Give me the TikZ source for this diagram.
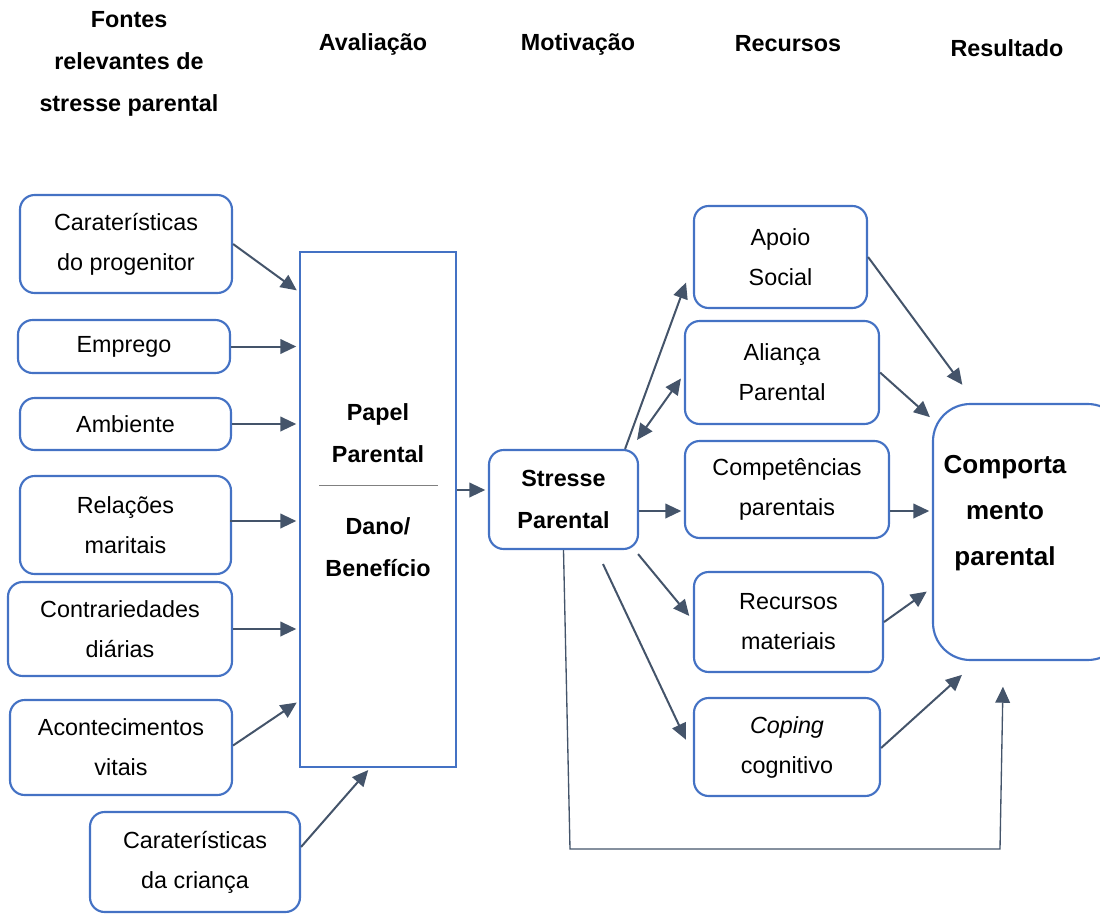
\documentclass[tikz,border=0pt]{standalone}
\usepackage{fontspec}
\setmainfont{Liberation Sans}
\usetikzlibrary{arrows.meta,calc}
\definecolor{azul}{HTML}{4472C4}
\definecolor{ardosia}{HTML}{44546A}
\tikzset{
  caixa/.style={draw=azul, line width=1.6pt, rounded corners=11pt, align=center, inner sep=0pt,
    font=\fontsize{17.5}{30}\selectfont},
  titulo/.style={align=center, font=\fontsize{17.5}{31.5}\selectfont\bfseries},
  seta/.style={draw=ardosia, line width=1.5pt, shorten >=2pt, -{Triangle[length=12pt,width=11pt]}},
  dupla/.style={draw=ardosia, line width=1.5pt, {Triangle[length=12pt,width=11pt]}-{Triangle[length=12pt,width=11pt]}}
}
\begin{document}
\begin{tikzpicture}[x=0.75pt,y=-0.75pt]
\useasboundingbox (0,0) rectangle (1100,914);
% titulos
\node[titulo] (tfontes) at (129,64) {Fontes\\relevantes de\\stresse parental};
\node[titulo] (taval) at (373,44) {Avaliação};
\node[titulo] (tmotiv) at (578,44) {Motivação};
\node[titulo] (trec) at (788,44) {Recursos};
\node[titulo] (tres) at (1007,48) {Resultado};
% fontes
\node[caixa, minimum width=159pt, minimum height=73.5pt] (prog) at (126,244) {Caraterísticas\\do progenitor};
\node[caixa, minimum width=159pt, minimum height=39.75pt] (emp) at (124,346.5) {Emprego};
\node[caixa, minimum width=158.25pt, minimum height=39pt] (amb) at (125.5,424) {Ambiente};
\node[caixa, minimum width=158.25pt, minimum height=73.5pt] (rel) at (125.5,525) {Relações\\maritais};
\node[caixa, minimum width=168pt, minimum height=70.5pt] (contr) at (120,629) {Contrariedades\\diárias};
\node[caixa, minimum width=166.5pt, minimum height=71.25pt] (acont) at (121,747.5) {Acontecimentos\\vitais};
\node[caixa, minimum width=157.5pt, minimum height=75pt] (crian) at (195,862) {Caraterísticas\\da criança};
% avaliacao
\node[draw=azul, line width=1.6pt, minimum width=117pt, minimum height=386.25pt] (papel) at (378,509.5) {};
\node[titulo] (papelA) at ($(papel.center)+(0,-76.5)$) {Papel\\Parental};
\node[titulo] (papelB) at ($(papel.center)+(0,38)$) {Dano/\\Benefício};
\draw[gray, line width=0.6pt] ($(papel.center)+(-59,-24.5)$) -- ($(papel.center)+(60,-24.5)$);
% motivacao
\node[caixa, minimum width=111.75pt, minimum height=74.25pt, font=\fontsize{17.5}{31.5}\selectfont\bfseries] (stress) at (563.5,499.5) {Stresse\\Parental};
% recursos
\node[caixa, minimum width=129.75pt, minimum height=76.5pt] (apoio) at (780.5,257) {Apoio\\Social};
\node[caixa, minimum width=145.5pt, minimum height=77.25pt] (alianca) at (782,372.5) {Aliança\\Parental};
\node[caixa, minimum width=153pt, minimum height=72.75pt] (compet) at (787,489.5) {Competências\\parentais};
\node[caixa, minimum width=141.75pt, minimum height=75pt] (recursos) at (788.5,622) {Recursos\\materiais};
\node[caixa, minimum width=139.5pt, minimum height=73.5pt] (coping) at (787,747) {\textit{Coping}\\cognitivo};
% resultado
\node[caixa, rounded corners=28pt, minimum width=144pt, minimum height=192pt] (comport) at (1029,532) {};
\node[titulo, font=\fontsize{19.5}{34.5}\selectfont\bfseries] (comportT) at ($(comport.center)+(-24,-19)$) {Comporta\\mento\\parental};
% setas fontes -> papel
\draw[seta] (prog.east) -- ($(papel.north west)+(0,41)$);
\draw[seta] (emp.east) -- (emp.east -| papel.west);
\draw[seta] (amb.east) -- (amb.east -| papel.west);
\draw[seta] ($(rel.east)+(-2,-4)$) -- ($(rel.east -| papel.west)+(0,-4)$);
\draw[seta] (contr.east) -- (contr.east -| papel.west);
\draw[seta] ($(acont.east)+(0,-2)$) -- ($(papel.south west)+(0,-67)$);
\draw[seta] ($(crian.north east)+(0,36)$) -- ($(papel.south)+(-8,0)$);
% papel -> stresse
\draw[seta] ($(papel.east)+(0,-19.5)$) -- ($(papel.east -| stress.west)+(0,-19.5)$);
% stresse -> recursos
\draw[seta] ($(stress.north east)+(-14,0)$) -- ($(apoio.west)+(-6,23)$);
\draw[dupla] ($(stress.north east)+(-2,-9)$) -- ($(alianca.west)+(-3,6)$);
\draw[seta] ($(stress.east)+(0,11.5)$) -- ($(stress.east -| compet.west)+(0,11.5)$);
\draw[seta] ($(stress.south east)+(-1,4)$) -- ($(recursos.west)+(-2,-4)$);
\draw[seta] ($(stress.south)+(39.5,14)$) -- ($(coping.west)+(-6,-5)$);
\draw[seta, line width=1pt] (stress.south) -- ++(6.5,299) -- ++(430,0) -- ($(comport.south)+(-26,23)$);
% recursos -> comportamento
\draw[seta] (apoio.east) -- ($(comport.north west)+(32,-16)$);
\draw[seta] (alianca.east) -- ($(comport.north west)+(0,16)$);
\draw[seta] ($(compet.east)+(0,21.5)$) -- ($(compet.east -| comport.west)+(0,21.5)$);
\draw[seta] (recursos.east) -- ($(comport.west)+(-3,58)$);
\draw[seta] ($(coping.east)+(0,1)$) -- ($(comport.south west)+(32,12)$);
\end{tikzpicture}
\end{document}
